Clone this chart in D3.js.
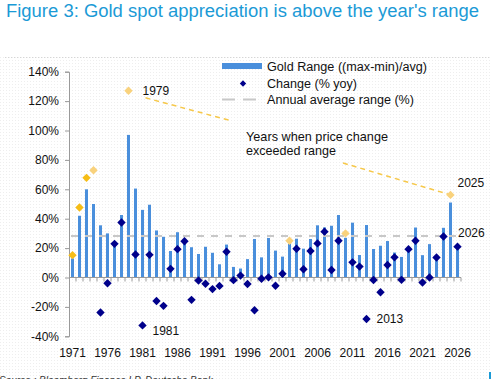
<!DOCTYPE html>
<html><head><meta charset="utf-8">
<script src="https://cdn.jsdelivr.net/npm/d3@7"></script>
<style>
html,body{margin:0;padding:0;background:#fff;}
svg{display:block;font-family:"Liberation Sans",Arial,Helvetica,sans-serif;}
</style></head>
<body><svg id="c" width="499" height="379"></svg>
<script>
const years = d3.range(1971, 2027);
const rangeValues = [13,42,60,50,35.5,30,24,42.5,97,60.5,46,49.5,32,27.7,18,30.8,26,20.6,16,20.9,16.8,9,22.4,7.2,6.1,12.5,26.2,13.7,26.9,18.3,14.2,23,26.4,19.6,26.2,35.5,34.1,35.2,42.5,27,37.3,15.3,35.7,19.4,21.6,24.8,17,14,20,34,15.2,22.7,15,33.8,51,22];
const changeValues = [15.2,47.6,67.8,73,-23.8,-3.9,22.9,37.4,127,15.6,-32.6,15.4,-16,-19.3,5.9,19.3,24.7,-15.2,-2,-4.3,-7.9,-5.7,17.5,-1.8,1.3,-4.4,-22.3,-0.8,0.1,-5.6,2.6,25,19.6,5.6,18,23.2,31.2,5.1,25,30,10.3,7.4,-28.2,-1.7,-10,8.5,13.7,-1.6,19.3,25,-3.4,0,13.6,27.9,56.2,21];
const avgRange = 28.3;
const yTicks = [-40,-20,0,20,40,60,80,100,120,140];
const xLabelYears = [1971,1976,1981,1986,1991,1996,2001,2006,2011,2016,2021,2026];
const brightYears = [1971,1972,1973];
const pointLabels = ["1979","1981","2013","2025","2026"];
const legendLabels = ["Gold Range ((max-min)/avg)","Change (% yoy)","Annual average range (%)"];
const titleText = "Figure 3: Gold spot appreciation is above the year's range";
const noteLines = ["Years when price change","exceeded range"];
const sourceText = "Source : Bloomberg Finance LP, Deutsche Bank";

const svg = d3.select("#c");
const defs = svg.append("defs");
const pat = defs.append("pattern").attr("id","dots").attr("width",3).attr("height",3).attr("patternUnits","userSpaceOnUse");
pat.append("rect").attr("width",1).attr("height",1).attr("fill","#eeeeee");
svg.append("rect").attr("x",0).attr("y",57).attr("width",490).attr("height",322).attr("fill","url(#dots)");
svg.append("line").attr("x1",5).attr("x2",489).attr("y1",57.5).attr("y2",57.5).attr("stroke","#d6d6d6").attr("stroke-dasharray","1,2");
svg.append("rect").attr("x",489).attr("y",372).attr("width",2).attr("height",7).attr("fill","#1b9ad6");

svg.append("text").attr("x",6).attr("y",16.5).attr("fill","#1b9ad6").attr("font-size",17.5)
  .attr("textLength",473).attr("lengthAdjust","spacingAndGlyphs").text(titleText);

const x = d3.scaleBand().domain(years).range([69,461]).paddingInner(0.57).paddingOuter(0.285);
const y = d3.scaleLinear().domain([-40,140]).range([336.3,71.7]);
const cx = yr => x(yr) + x.bandwidth()/2;

// y axis
const ya = svg.append("g").attr("transform","translate(69,0)")
  .call(d3.axisLeft(y).tickValues(yTicks).tickFormat(d=>d+"%").tickSize(4).tickPadding(6));
ya.select(".domain").attr("stroke","#9a9a9a");
ya.selectAll(".tick line").attr("stroke","#9a9a9a");
ya.selectAll("text").attr("font-size",12).attr("fill","#111").attr("font-family","Liberation Sans, Arial, sans-serif");

// bars
svg.append("g").selectAll("rect").data(years).join("rect")
  .attr("x",d=>x(d)).attr("width",x.bandwidth())
  .attr("y",(d,i)=>y(Math.max(0,rangeValues[i])))
  .attr("height",(d,i)=>Math.abs(y(rangeValues[i])-y(0)))
  .attr("fill","#4a8fdc");

// average line
svg.append("line").attr("x1",69).attr("x2",457).attr("y1",y(avgRange)).attr("y2",y(avgRange))
  .attr("stroke","#c8c8c8").attr("stroke-width",2).attr("stroke-dasharray","7,7").attr("stroke-dashoffset",-2);

// zero axis with ticks between bars
svg.append("line").attr("x1",69).attr("x2",461).attr("y1",y(0)).attr("y2",y(0)).attr("stroke","#9a9a9a");
svg.append("g").selectAll("line").data(years).join("line")
  .attr("x1",d=>cx(d)+x.step()/2).attr("x2",d=>cx(d)+x.step()/2)
  .attr("y1",y(0)).attr("y2",y(0)+4).attr("stroke","#9a9a9a");

// x labels
const xa = svg.append("g").attr("transform","translate(0,338)")
  .call(d3.axisBottom(x).tickValues(xLabelYears).tickSize(0).tickPadding(10));
xa.select(".domain").remove();
xa.selectAll("text").attr("font-size",12).attr("fill","#111").attr("font-family","Liberation Sans, Arial, sans-serif");

// annotation dashed lines
const ann = svg.append("g").attr("stroke","#f6c84a").attr("stroke-width",1.5).attr("stroke-dasharray","5,4").attr("fill","none");
ann.append("line").attr("x1",cx(1979)+17).attr("y1",y(changeValues[8])+7).attr("x2",232).attr("y2",121);
ann.append("line").attr("x1",343).attr("y1",163).attr("x2",cx(2025)).attr("y2",y(changeValues[54]));

// diamonds
const diamond = r => `M0,${-r}L${r},0L0,${r}L${-r},0Z`;
svg.append("g").selectAll("path").data(years).join("path")
  .attr("d",diamond(4.2))
  .attr("transform",(d,i)=>`translate(${cx(d)},${y(changeValues[i])})`)
  .attr("fill",(d,i)=> changeValues[i] > rangeValues[i] ? (brightYears.includes(d) ? "#f6bd16" : "#f9d27c") : "#00008b");

// point labels
const lbl = svg.append("g").attr("font-size",12).attr("fill","#111");
const idx = yr => years.indexOf(yr);
lbl.append("text").attr("x",cx(1979)+14).attr("y",y(changeValues[idx(1979)])+4).text(pointLabels[0]);
lbl.append("text").attr("x",cx(1981)+10).attr("y",y(changeValues[idx(1981)])+10).text(pointLabels[1]);
lbl.append("text").attr("x",cx(2013)+10).attr("y",y(changeValues[idx(2013)])+4).text(pointLabels[2]);
lbl.append("text").attr("x",cx(2025)+7).attr("y",y(changeValues[idx(2025)])-8).text(pointLabels[3]);
lbl.append("text").attr("x",cx(2026)+0.5).attr("y",y(avgRange)+1).text(pointLabels[4]);
const noteWidths = [142, 90];
lbl.selectAll(null).data(noteLines).join("text").attr("x",246).attr("y",(d,i)=>141+i*13.5)
  .attr("font-size",13.5).attr("textLength",(d,i)=>noteWidths[i]).attr("lengthAdjust","spacingAndGlyphs").text(d=>d);

// legend
const lg = svg.append("g").attr("font-size",12.5).attr("fill","#111");
lg.append("rect").attr("x",222).attr("y",63).attr("width",40).attr("height",6).attr("fill","#4a8fdc");
lg.append("path").attr("d",diamond(3.2)).attr("transform","translate(243,83.5)").attr("fill","#00008b");
lg.append("line").attr("x1",222).attr("x2",258).attr("y1",99.5).attr("y2",99.5).attr("stroke","#c8c8c8").attr("stroke-width",2).attr("stroke-dasharray","13,8");
const legendWidths = [160, 90, 147];
lg.selectAll("text").data(legendLabels).join("text").attr("x",267).attr("y",(d,i)=>71+i*16.5)
  .attr("textLength",(d,i)=>legendWidths[i]).attr("lengthAdjust","spacingAndGlyphs").text(d=>d);

svg.append("text").attr("x",-1).attr("y",384).attr("font-size",10).attr("font-style","italic").attr("fill","#333").text(sourceText);
</script></body></html>
